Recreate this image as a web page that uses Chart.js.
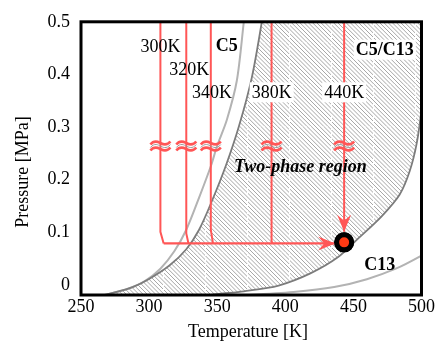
<!DOCTYPE html>
<html lang="en">
<head>
<meta charset="UTF-8">
<title>C5/C13 two-phase region</title>
<script src="https://cdn.jsdelivr.net/npm/chart.js"></script>
<style>
  body { margin: 0; background: #fff; }
</style>
</head>
<body>
<canvas id="chart" width="436" height="343"></canvas>
<script>
// axis ticks
const xTicks = [250, 300, 350, 400, 450, 500];
const yTicks = [0, 0.1, 0.2, 0.3, 0.4, 0.5];

// pure C5 saturation curve (light gray)
const c5T = [263.8, 273.3, 283.5, 296.6, 308.3, 318.5, 327.3, 336.7, 345.5, 349.9, 357.1, 364.4, 369.5, 370.3];
const c5P = [-0.023, -0.015, -0.008, 0.007, 0.031, 0.064, 0.105, 0.166, 0.227, 0.264, 0.314, 0.388, 0.499, 0.518];

// mixture bubble curve (dark gray, left edge of two-phase region)
const bubT = [260.2, 273.3, 287.9, 300.3, 314.9, 327.3, 336.7, 346.2, 356.4, 365.9, 375.4, 382.7, 383.4];
const bubP = [-0.023, -0.015, -0.004, 0.012, 0.037, 0.068, 0.105, 0.160, 0.227, 0.301, 0.394, 0.499, 0.518];

// mixture dew curve (dark gray, right edge), from top to bottom
const dewT = [502.9, 500.0, 496.4, 491.3, 484.0, 470.9, 453.4, 438.8, 418.4, 395.1, 369.5, 351.3, 333.1];
const dewP = [0.416, 0.333, 0.268, 0.216, 0.172, 0.131, 0.088, 0.053, 0.022, -0.001, -0.012, -0.017, -0.023];

// pure C13 saturation curve (light gray)
const c13T = [351.3, 373.2, 406.0, 435.9, 459.9, 481.1, 499.3, 500.7];
const c13P = [-0.021, -0.019, -0.0135, -0.004, 0.011, 0.031, 0.055, 0.059];

// isotherms (red)
const isoNames = ['300K', '320K', '340K', '380K', '440K'];
const isoT = [308.3, 327.3, 345.3, 389.9, 443.2];
const isoBendP = [0.101, 0.098, 0.105, 0.083, null];
const isoFootT = [310.7, 328.9, 346.9, 390.7, null];
const isoTopP = 0.56;
const breakP = 0.264;
const flowP = 0.079;
const flowEndT = 436.6;
const dropEndP = 0.101;
const stateT = [443.2];
const stateP = [0.081];

// text notes
const noteText = ['300K', '320K', '340K', 'C5', '380K', '440K', 'C5/C13', 'Two-phase region', 'C13'];
const noteT = [308.3, 329.5, 346.2, 357.1, 390.0, 443.2, 473.0, 411.1, 469.4];
const noteP = [0.453, 0.409, 0.366, 0.455, 0.366, 0.366, 0.447, 0.225, 0.040];
const noteStyle = ['', '', '', 'bold ', '', '', 'bold ', 'italic bold ', 'bold '];
const noteBox = [false, false, false, false, true, true, true, false, false];

const FONT = "'Liberation Serif', 'Times New Roman', serif";
const RED = '#ff5656';

function pts(xs, ys) {
  return xs.map((x, i) => ({ x: x, y: ys[i] }));
}

function makeHatch() {
  const c = document.createElement('canvas');
  c.width = 42; c.height = 42;
  const g = c.getContext('2d');
  g.fillStyle = '#fff';
  g.fillRect(0, 0, 42, 42);
  g.strokeStyle = '#a6a6a6';
  g.lineWidth = 1;
  for (let k = -10; k <= 10; k++) {
    const x0 = k * 4.2;
    g.beginPath(); g.moveTo(x0, 0); g.lineTo(x0 + 42, 42); g.stroke();
  }
  g.strokeStyle = '#fff';
  g.lineWidth = 1;
  g.setLineDash([4, 2]);
  g.beginPath(); g.moveTo(37.5, 0); g.lineTo(37.5, 42); g.stroke();
  return g.createPattern(c, 'repeat');
}

// two-phase region outline: bubble curve up, across the top, dew curve down
const regionPts = pts(bubT, bubP).concat([{ x: 520, y: 0.56 }], pts(dewT, dewP));

const datasets = [
  { data: regionPts, fill: 'shape', backgroundColor: makeHatch(), borderWidth: 0, pointRadius: 0, order: 10 },
  { data: pts(c5T, c5P), borderColor: '#b3b3b3', borderWidth: 2, tension: 0.3, pointRadius: 0, order: 8 },
  { data: pts(c13T, c13P), borderColor: '#b3b3b3', borderWidth: 2, tension: 0.3, pointRadius: 0, order: 8 },
  { data: pts(bubT, bubP), borderColor: '#7c7c7c', borderWidth: 1.8, tension: 0.3, pointRadius: 0, order: 7 },
  { data: pts(dewT, dewP), borderColor: '#7c7c7c', borderWidth: 1.8, tension: 0.3, pointRadius: 0, order: 7 }
];

isoT.forEach((t, i) => {
  const d = [{ x: t, y: isoTopP }];
  if (isoBendP[i] !== null) {
    d.push({ x: t, y: isoBendP[i] }, { x: isoFootT[i], y: flowP });
  } else {
    d.push({ x: t, y: dropEndP });
  }
  datasets.push({ data: d, borderColor: RED, borderWidth: 2, pointRadius: 0, order: 3,
    breakAt: breakP, arrow: isoBendP[i] === null });
});

datasets.push({ data: [{ x: isoFootT[0], y: flowP }, { x: flowEndT, y: flowP }],
  borderColor: RED, borderWidth: 2.3, pointRadius: 0, order: 2, arrow: true });

datasets.push({ data: pts(stateT, stateP), showLine: false, pointRadius: 7.5,
  pointBackgroundColor: '#ff3a14', pointBorderColor: '#000', pointBorderWidth: 5, order: 0 });

function drawArrow(ctx, tx, ty, dx, dy) {
  const len = Math.hypot(dx, dy);
  dx /= len; dy /= len;
  const px = -dy, py = dx;
  const L = 17, W = 7, N = 11;
  ctx.beginPath();
  ctx.moveTo(tx, ty);
  ctx.lineTo(tx - dx * L + px * W, ty - dy * L + py * W);
  ctx.lineTo(tx - dx * N, ty - dy * N);
  ctx.lineTo(tx - dx * L - px * W, ty - dy * L - py * W);
  ctx.closePath();
  ctx.fillStyle = RED;
  ctx.fill();
}

function drawBreak(ctx, x, y) {
  const wave = (o) => {
    ctx.beginPath();
    ctx.moveTo(x - 10, y + o + 1.5);
    ctx.bezierCurveTo(x - 6, y + o - 3.5, x - 2, y + o - 1, x, y + o);
    ctx.bezierCurveTo(x + 2, y + o + 1, x + 6, y + o + 3.5, x + 10, y + o - 1.5);
    ctx.stroke();
  };
  ctx.strokeStyle = RED;
  ctx.lineWidth = 2.6;
  wave(-3); wave(3);
  ctx.strokeStyle = '#9a9a9a';
  ctx.lineWidth = 1;
  wave(0);
}

const decorations = {
  id: 'decorations',
  afterDatasetsDraw(chart) {
    const ctx = chart.ctx;
    const xs = chart.scales.x, ys = chart.scales.y;
    const area = chart.chartArea;
    ctx.save();
    ctx.beginPath();
    ctx.rect(area.left, area.top, area.right - area.left, area.bottom - area.top);
    ctx.clip();

    chart.data.datasets.forEach((ds, i) => {
      const meta = chart.getDatasetMeta(i);
      if (ds.breakAt !== undefined) {
        drawBreak(ctx, meta.data[0].x, ys.getPixelForValue(ds.breakAt));
      }
      if (ds.arrow) {
        const a = meta.data[meta.data.length - 2], b = meta.data[meta.data.length - 1];
        drawArrow(ctx, b.x, b.y, b.x - a.x, b.y - a.y);
      }
    });
    ctx.restore();

    // state point on top of the arrows
    const sm = chart.getDatasetMeta(chart.data.datasets.length - 1);
    sm.data.forEach(p => p.draw(ctx));

    // notes
    ctx.save();
    ctx.textAlign = 'center';
    ctx.textBaseline = 'middle';
    noteText.forEach((txt, i) => {
      const x = xs.getPixelForValue(noteT[i]);
      const y = ys.getPixelForValue(noteP[i]);
      ctx.font = noteStyle[i] + '18px ' + FONT;
      if (noteBox[i]) {
        const w = ctx.measureText(txt).width;
        ctx.fillStyle = '#fff';
        ctx.fillRect(x - w / 2 - 2, y - 10, w + 4, 20);
      }
      ctx.fillStyle = '#000';
      ctx.fillText(txt, x, y + 1);
    });

    // axis titles
    ctx.font = '18px ' + FONT;
    ctx.fillText('Temperature [K]', 248, 332);
    ctx.translate(23, 172);
    ctx.rotate(-Math.PI / 2);
    ctx.fillText('Pressure [MPa]', 0, 0);
    ctx.restore();

    // frame
    ctx.save();
    ctx.strokeStyle = '#000';
    ctx.lineWidth = 3;
    ctx.strokeRect(area.left, area.top, area.right - area.left, area.bottom - area.top);
    ctx.restore();
  }
};

new Chart(document.getElementById('chart'), {
  type: 'line',
  data: { datasets: datasets },
  options: {
    responsive: false,
    animation: false,
    events: [],
    layout: { padding: { top: 15, right: 12, left: 0, bottom: 0 } },
    plugins: { legend: { display: false }, tooltip: { enabled: false } },
    scales: {
      x: {
        type: 'linear', min: 250, max: 500,
        grid: { display: false, drawTicks: false },
        border: { display: false },
        ticks: { color: '#000', padding: 1, font: { family: FONT, size: 18 }, callback: v => String(v) },
        afterBuildTicks: s => { s.ticks = xTicks.map(v => ({ value: v })); },
        afterFit: s => { s.height = 48; }
      },
      y: {
        type: 'linear', min: -0.019, max: 0.5,
        grid: { display: false, drawTicks: false },
        border: { display: false },
        ticks: { color: '#000', padding: 11, font: { family: FONT, size: 18 }, callback: v => String(v) },
        afterBuildTicks: s => { s.ticks = yTicks.map(v => ({ value: v })); },
        afterFit: s => { s.width = 81; }
      }
    }
  },
  plugins: [decorations]
});
</script>
</body>
</html>
